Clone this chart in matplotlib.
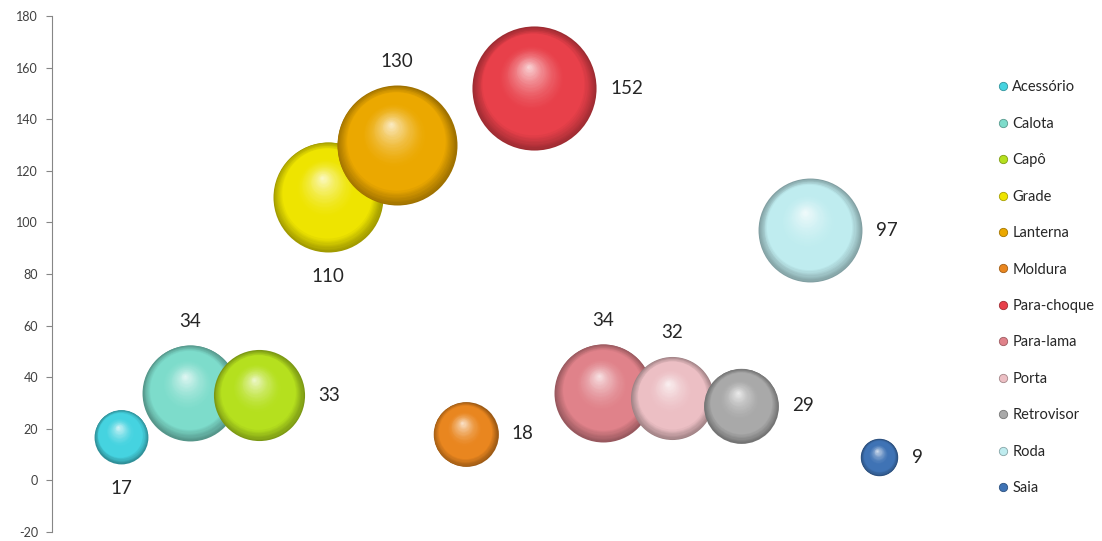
import matplotlib
matplotlib.use('Agg')
import matplotlib.pyplot as plt
import matplotlib.transforms as mtransforms
from matplotlib.lines import Line2D
from matplotlib.colors import to_rgb
import numpy as np

plt.rcParams['font.family'] = ['Lato', 'DejaVu Sans']
plt.rcParams['axes.unicode_minus'] = False

# data
categories = ['Acessório', 'Calota', 'Capô', 'Grade', 'Lanterna', 'Moldura',
              'Para-choque', 'Para-lama', 'Porta', 'Retrovisor', 'Roda', 'Saia']
x_pos = [1, 2, 3, 4, 5, 6, 7, 8, 9, 10, 11, 12]
values = [17, 34, 33, 110, 130, 18, 152, 34, 32, 29, 97, 9]
bubble_size = [29, 92, 83, 121, 144, 42, 154, 96, 69, 56, 108, 14]
label_side = ['below', 'above', 'right', 'below', 'above', 'right',
              'right', 'above', 'above', 'right', 'right', 'right']
colors = ['#45D3E0', '#7DDCCB', '#B5E01E', '#EEE400', '#EBA800', '#E9861F',
          '#E8404A', '#E0828A', '#ECBFC4', '#A9A9A9', '#BFECEF', '#3F73B5']

DPI = 100
PX_PER_UNIT = 5.0  # bubble radius in px = 5 * sqrt(size)

fig = plt.figure(figsize=(11.02, 5.41), dpi=DPI)
ax = fig.add_axes([52 / 1102, 9 / 541, 896 / 1102, 516 / 541])
ax.set_xlim(0, 13)
ax.set_ylim(-20, 180)
ax.set_yticks(np.arange(-20, 181, 20))
ax.set_xticks([])
for s in ['top', 'right', 'bottom']:
    ax.spines[s].set_visible(False)
ax.spines['left'].set_color('#868686')
ax.tick_params(axis='y', direction='out', length=4, color='#868686',
               labelsize=9, labelcolor='#404040', pad=6)


def mix(c, target, t):
    c = np.array(to_rgb(c))
    return tuple(c + (np.array(target) - c) * t)


def sphere(ax, x, y, r_px, color, z):
    # nested discs shifted toward the highlight give the 3D look
    r_pt = r_px * 72 / DPI
    hx, hy = -0.1 * r_pt, 0.35 * r_pt
    n = 50
    for k in range(n):
        t = k / n
        if t < 0.18:
            c = mix(color, (0, 0, 0), 0.32 * (1 - t / 0.18))
        elif t < 0.45:
            c = to_rgb(color)
        else:
            c = mix(color, (1, 1, 1), 0.8 * ((t - 0.45) / 0.55) ** 1.6)
        tr = mtransforms.offset_copy(ax.transData, fig=fig,
                                     x=hx * t, y=hy * t, units='points')
        d = 2 * r_pt * (1 - t)
        ax.scatter([x], [y], s=d ** 2, color=c, linewidths=0,
                   transform=tr, zorder=z + t * 0.5)


for i, cat in enumerate(categories):
    r_px = PX_PER_UNIT * np.sqrt(bubble_size[i])
    sphere(ax, x_pos[i], values[i], r_px, colors[i], 2 + i)
    r_pt = r_px * 72 / DPI
    side = label_side[i]
    if side == 'below':
        off, ha, va = (0, -(r_pt + 18)), 'center', 'center'
    elif side == 'above':
        off, ha, va = (0, r_pt + 17), 'center', 'center'
    else:
        off, ha, va = (r_pt + 10, 0), 'left', 'center'
    ax.annotate(str(values[i]), (x_pos[i], values[i]), xytext=off,
                textcoords='offset points', ha=ha, va=va, fontsize=13.5,
                color='#262626', zorder=30)

handles = [Line2D([], [], linestyle='none', marker='o', markersize=6,
                  markerfacecolor=c, markeredgecolor=mix(c, (0, 0, 0), 0.3),
                  markeredgewidth=0.6) for c in colors]
fig.legend(handles, categories, loc='upper left',
           bbox_to_anchor=(991 / 1102, 1 - 73 / 541), frameon=False,
           fontsize=10.5, labelspacing=1.54, handlelength=0.7,
           handletextpad=0.25, borderpad=0, labelcolor='#262626')

fig.savefig('out.png', dpi=DPI, facecolor='white')
